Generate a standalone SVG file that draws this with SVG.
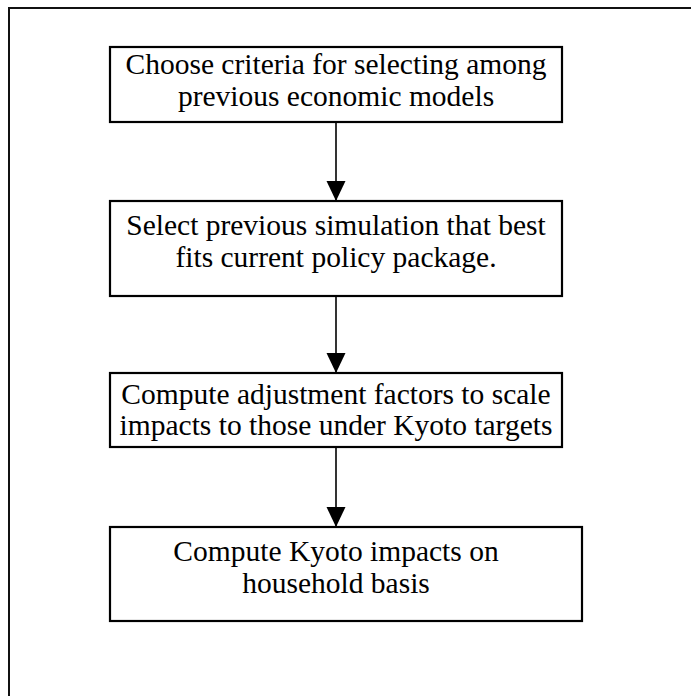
<svg xmlns="http://www.w3.org/2000/svg" width="691" height="696" viewBox="0 0 691 696">
<style>
.box{fill:#fff;stroke:#000;stroke-width:2.2}
.t{font-family:"Liberation Serif","Times New Roman",serif;font-size:29.5px;fill:#000;text-anchor:middle}
.c{stroke:#000;stroke-width:1.6;fill:none}
</style>
<defs>
<marker id="ah" markerUnits="userSpaceOnUse" markerWidth="20" markerHeight="21" refX="20" refY="9.5" orient="auto" viewBox="0 0 20 19">
<path d="M0,0 L20,9.5 L0,19 Z" fill="#000"/>
</marker>
</defs>
<rect x="0" y="0" width="691" height="696" fill="#fff"/>
<rect id="frame" x="9" y="8" width="720" height="720" fill="none" stroke="#111" stroke-width="2"/>
<g id="connectors">
<line class="c" x1="336" y1="123" x2="336" y2="201" marker-end="url(#ah)"/>
<line class="c" x1="336" y1="297" x2="336" y2="373" marker-end="url(#ah)"/>
<line class="c" x1="336" y1="448" x2="336" y2="527" marker-end="url(#ah)"/>
</g>
<g id="n1">
<rect class="box" x="110" y="47" width="452" height="75"/>
<text class="t" x="336" y="74">Choose criteria for selecting among</text>
<text class="t" x="336" y="106">previous economic models</text>
</g>
<g id="n2">
<rect class="box" x="110" y="201" width="452" height="95"/>
<text class="t" x="336" y="235">Select previous simulation that best</text>
<text class="t" x="336" y="267">fits current policy package.</text>
</g>
<g id="n3">
<rect class="box" x="110" y="373" width="452" height="74"/>
<text class="t" x="336" y="404">Compute adjustment factors to scale</text>
<text class="t" x="336" y="435">impacts to those under Kyoto targets</text>
</g>
<g id="n4">
<rect class="box" x="110" y="527" width="472" height="94"/>
<text class="t" x="336" y="561">Compute Kyoto impacts on</text>
<text class="t" x="336" y="593">household basis</text>
</g>
</svg>
